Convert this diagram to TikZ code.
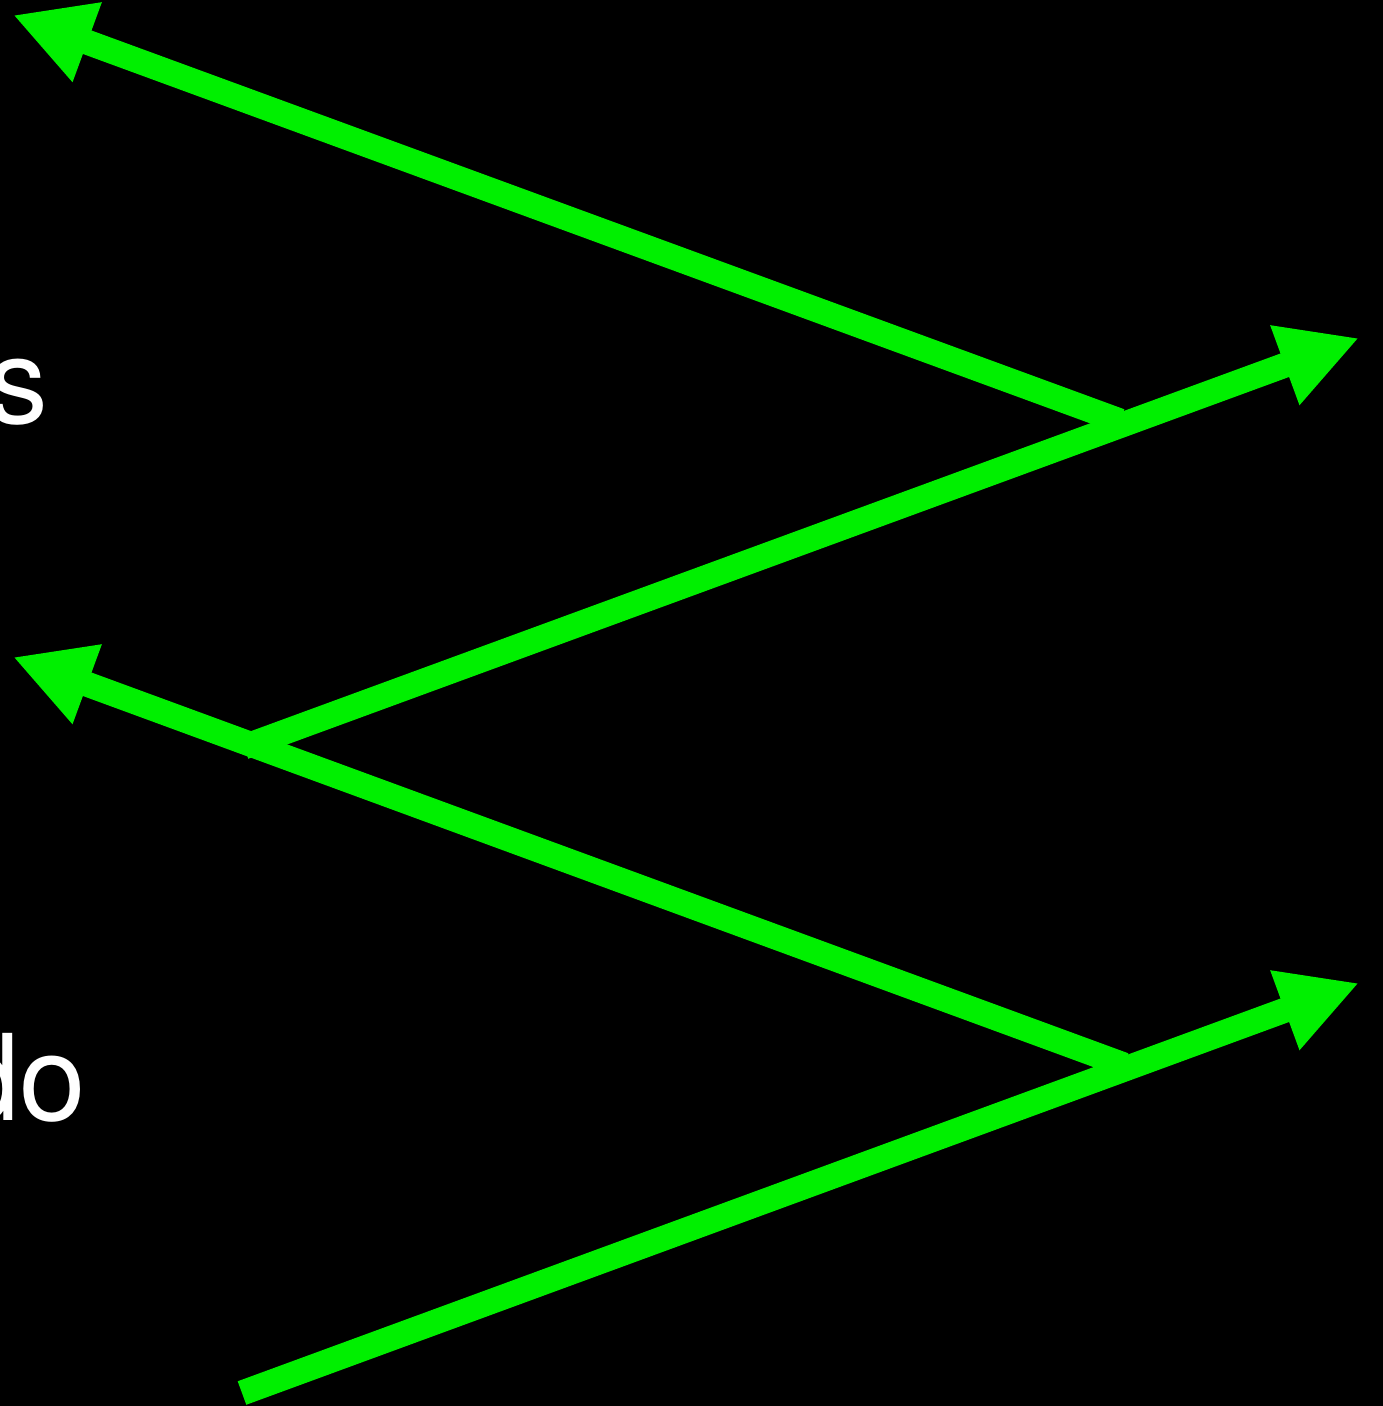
\documentclass[tikz,border=0pt]{standalone}
\usepackage{fontspec}
\setmainfont{TeX Gyre Heros}
\definecolor{zigzaggreen}{HTML}{00F000}
\usetikzlibrary{arrows.meta}

\begin{document}
\begin{tikzpicture}[
  x=0.01cm,y=-0.01cm,
  arrow/.style={-{Triangle[length=0.79cm,width=0.79cm]},
                line width=0.25cm,color=zigzaggreen},
  word/.style={text=white,inner sep=0pt,anchor=base east,
               font=\fontsize{34pt}{40pt}\selectfont}
]
\useasboundingbox (0,0) rectangle (1383,1406);
\fill[black] (0,0) rectangle (1383,1406);
\clip (0,0) rectangle (1383,1406);
% words cut off at the left edge
\node[word] (upper) at (49,423) {s};
\node[word] (lower) at (87,1120) {do};
% zigzag
\coordinate (tipA) at (13,15);
\coordinate (turnA) at (1120,421);
\coordinate (tipB) at (1359,338);
\coordinate (turnB) at (244,747);
\coordinate (tipC) at (13,657);
\coordinate (turnC) at (1124,1065);
\coordinate (tipD) at (1359,983);
\coordinate (start) at (242,1393);
\draw[arrow] (start) -- (tipD);
\draw[arrow] (turnC) -- (tipC);
\draw[arrow] (turnB) -- (tipB);
\draw[arrow] (turnA) -- (tipA);
\end{tikzpicture}
\end{document}
